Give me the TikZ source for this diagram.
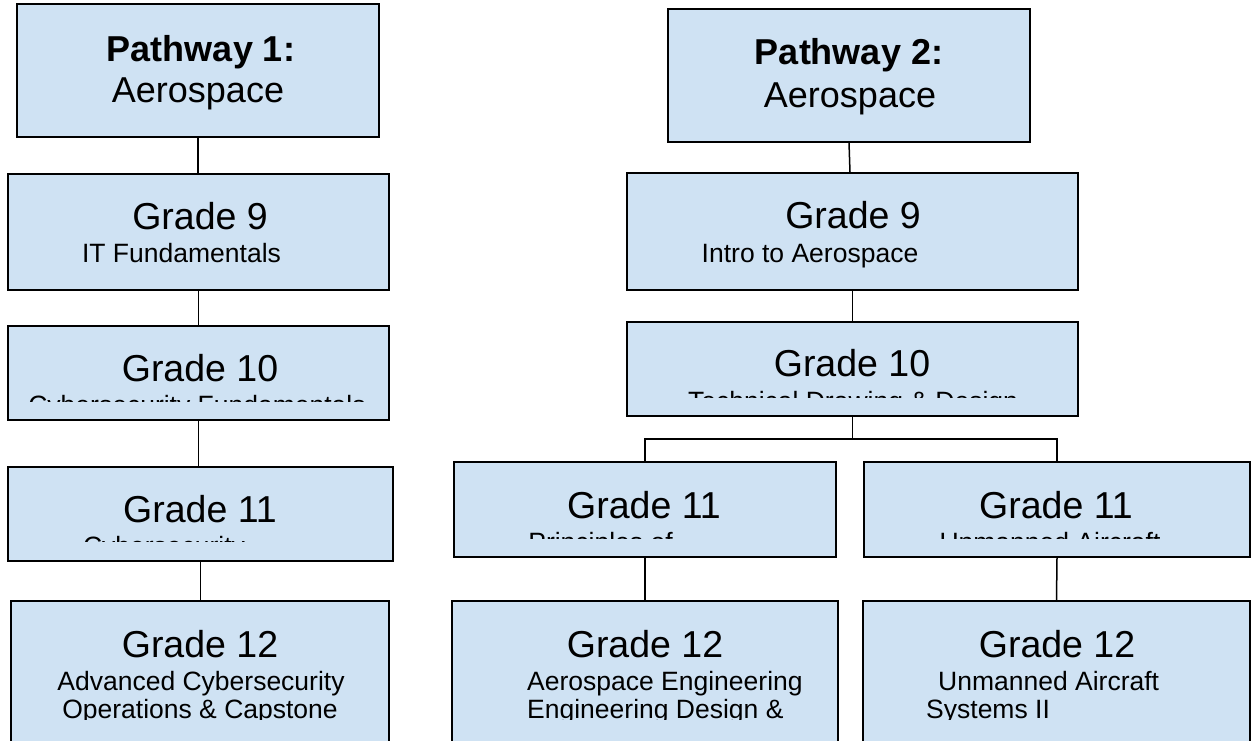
\documentclass[tikz,border=0pt]{standalone}
\usepackage{fontspec}
\setmainfont{Liberation Sans}
\definecolor{boxblue}{HTML}{CFE2F3}
\begin{document}
\begin{tikzpicture}[x=1pt,y=-1pt,
  box/.style={draw=black, line width=1.4pt, fill=boxblue, inner sep=0pt, rectangle},
  link/.style={draw=black, line width=1.5pt},
  head/.style={font=\fontsize{36}{43}\selectfont, inner sep=0pt, anchor=base},
  grade/.style={font=\fontsize{37.5}{45}\selectfont, inner sep=0pt, anchor=base},
  sub/.style={font=\fontsize{26.5}{30}\selectfont, inner sep=0pt, anchor=base},
  subw/.style={sub, anchor=base west}]
\useasboundingbox (0,0) rectangle (1252,740);
% ---------- boxes ----------
\node[box, minimum width=362pt, minimum height=133pt] (p1)  at (198,70.5) {};
\node[box, minimum width=381pt, minimum height=116pt] (g9l) at (198.5,232) {};
\node[box, minimum width=381pt, minimum height=94pt]  (g10l) at (198.5,373) {};
\node[box, minimum width=385pt, minimum height=94pt]  (g11l) at (200.5,514) {};
\node[box, minimum width=378pt, minimum height=169pt] (g12l) at (200,685.5) {};
\node[box, minimum width=362pt, minimum height=133pt] (p2)  at (849,75.5) {};
\node[box, minimum width=451pt, minimum height=117pt] (g9r) at (852.5,231.5) {};
\node[box, minimum width=451pt, minimum height=94pt]  (g10r) at (852.5,369) {};
\node[box, minimum width=382pt, minimum height=95pt]  (g11a) at (645,509.5) {};
\node[box, minimum width=386pt, minimum height=95pt]  (g11b) at (1057,509.5) {};
\node[box, minimum width=386pt, minimum height=169pt] (g12a) at (645,685.5) {};
\node[box, minimum width=387pt, minimum height=169pt] (g12b) at (1056.5,685.5) {};
% ---------- connectors ----------
\draw[link] (p1.south) -- (p1.south |- g9l.north);
\draw[link] (g9l.south) -- (g9l.south |- g10l.north);
\draw[link] (g10l.south) -- (g10l.south |- g11l.north);
\draw[link] (g11l.south) -- (g11l.south |- g12l.north);
\draw[link] (p2.south) -- ([xshift=1pt]p2.south |- g9r.north);
\draw[link] (g9r.south) -- (g10r.north);
\coordinate (fork) at (852.5,439);
\draw[link] (g10r.south) -- (fork);
\draw[link] (g11a.north) |- (fork) -| (g11b.north);
\draw[link] (g11a.south) -- (g12a.north);
\draw[link] (g11b.south) -- (g12b.north);
% ---------- texts: pathway 1 ----------
\node[head] (t1a) at (201,61) {\bfseries Pathway 1:};
\node[head] (t1b) at (198,102) {Aerospace};
\node[grade] (t9l) at (200,229) {Grade 9};
\node[sub] (s9l) at (181.5,262) {IT Fundamentals};
\node[grade] (t10l) at (200,381) {Grade 10};
\begin{scope}
  \clip (8,326) rectangle (389,401);
  \node[sub] (s10l) at (197,414) {Cybersecurity Fundamentals};
\end{scope}
\node[grade] (t11l) at (200,522) {Grade 11};
\begin{scope}
  \clip (8,467) rectangle (393,541);
  \node[sub] (s11l) at (164,555) {Cybersecurity};
\end{scope}
\node[grade] (t12l) at (200,657) {Grade 12};
\node[sub] (s12l) at (201,690) {Advanced Cybersecurity};
\begin{scope}
  \clip (11,601) rectangle (389,719.5);
  \node[sub] (s12lb) at (200,718) {Operations \& Capstone};
\end{scope}
% ---------- texts: pathway 2 ----------
\node[head] (t2a) at (849,64) {\bfseries Pathway 2:};
\node[head] (t2b) at (850,107) {Aerospace};
\node[grade] (t9r) at (853,228) {Grade 9};
\node[sub] (s9r) at (810,262) {Intro to Aerospace};
\node[grade] (t10r) at (852,376) {Grade 10};
\begin{scope}
  \clip (627,322) rectangle (1078,397);
  \node[sub] (s10r) at (853,410) {Technical Drawing \& Design};
\end{scope}
\node[grade] (t11a) at (644,518) {Grade 11};
\node[grade] (t11b) at (1056,518) {Grade 11};
\begin{scope}
  \clip (454,462) rectangle (1250,538);
  \node[sub] (s11a) at (600.5,551) {Principles of};
  \node[sub] (s11b) at (1050,551) {Unmanned Aircraft};
\end{scope}
\node[grade] (t12a) at (645,657) {Grade 12};
\node[grade] (t12b) at (1057,657) {Grade 12};
\node[subw] (s12a) at (527,690) {Aerospace Engineering};
\node[subw] (s12b) at (938,690) {Unmanned Aircraft};
\begin{scope}
  \clip (452,601) rectangle (1250,719.5);
  \node[subw] (s12a2) at (527,718) {Engineering Design \&};
  \node[subw] (s12b2) at (926,718) {Systems II};
\end{scope}
\end{tikzpicture}
\end{document}
